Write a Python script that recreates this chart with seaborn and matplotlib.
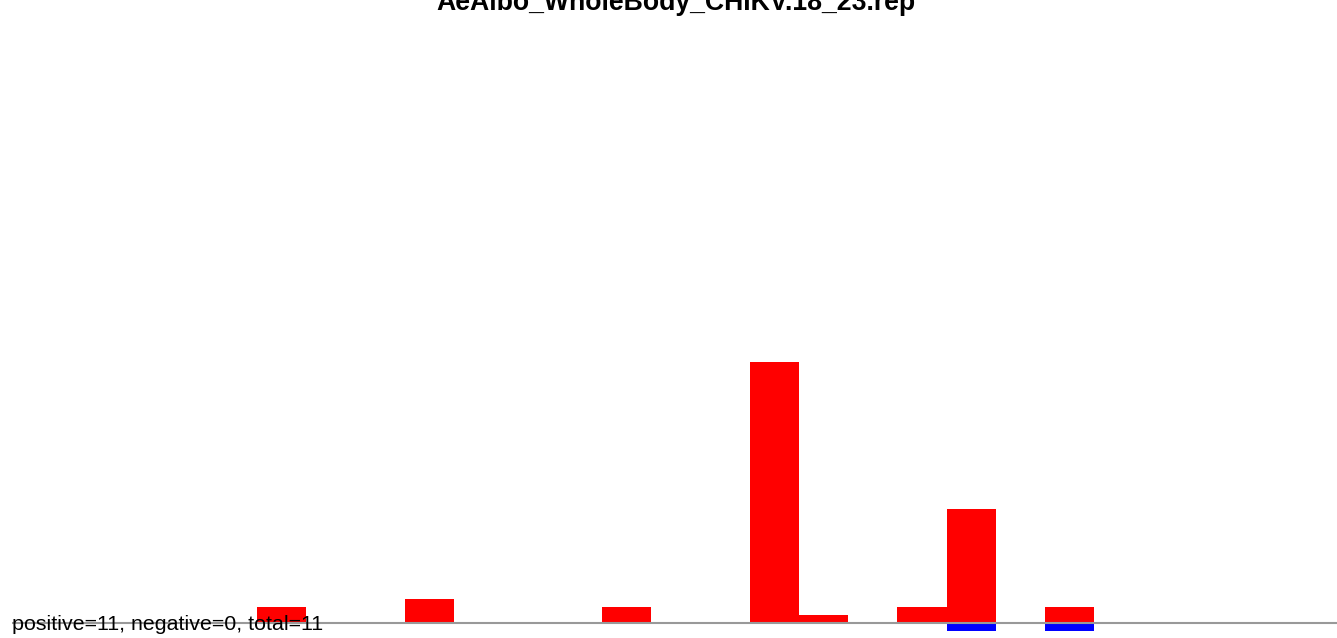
import numpy as np
import pandas as pd
import matplotlib
matplotlib.use("Agg")
import matplotlib.pyplot as plt
import seaborn as sns

# bins along the x axis and signed bar values (red = positive, blue = negative)
pos_slots = [5, 8, 12, 15, 16, 18, 19, 21]
pos_values = [2.0, 3.0, 2.0, 32.6, 1.0, 2.0, 14.25, 2.0]
neg_slots = [19, 21]
neg_values = [-1.0, -1.0]
title = "AeAlbo_WholeBody_CHIKV.18_23.rep"
summary = "positive=11, negative=0, total=11"

df = pd.DataFrame({
    "slot": pos_slots + neg_slots,
    "value": pos_values + neg_values,
    "sign": ["pos"] * len(pos_slots) + ["neg"] * len(neg_slots),
})

sns.set_theme(style="white")
plt.rcParams["font.family"] = ["Liberation Sans", "DejaVu Sans"]

W, H = 1337, 638
fig = plt.figure(figsize=(W / 100, H / 100), dpi=100)
ax = fig.add_axes([0, 0, 1, 1])

sns.barplot(data=df, x="slot", y="value", hue="sign", native_scale=True,
            palette={"pos": "#ff0000", "neg": "#0000ff"}, dodge=False,
            saturation=1, width=1, errorbar=None, linewidth=0,
            legend=False, ax=ax)

slot_px = 49.25
left = -0.5 - 10.75 / slot_px
right = left + W / slot_px
ax.set_xlim(left, right)
# 8 px per unit, baseline 15 px above the bottom edge
ax.set_ylim(-15 / 8, (H - 15) / 8)
ax.hlines(0, -0.5 + 1.25 / slot_px, right, color="#999999", lw=1.5, zorder=3)

ax.set_axis_off()
fig.text(676 / W, 1 - 10 / H, title, ha="center", va="baseline",
         fontsize=19.2, fontweight="bold", color="black")
fig.text(12 / W, 1 - 625 / H, summary, ha="left", va="center",
         fontsize=15.4, color="black")

fig.savefig("out.png", dpi=100)
plt.close(fig)
